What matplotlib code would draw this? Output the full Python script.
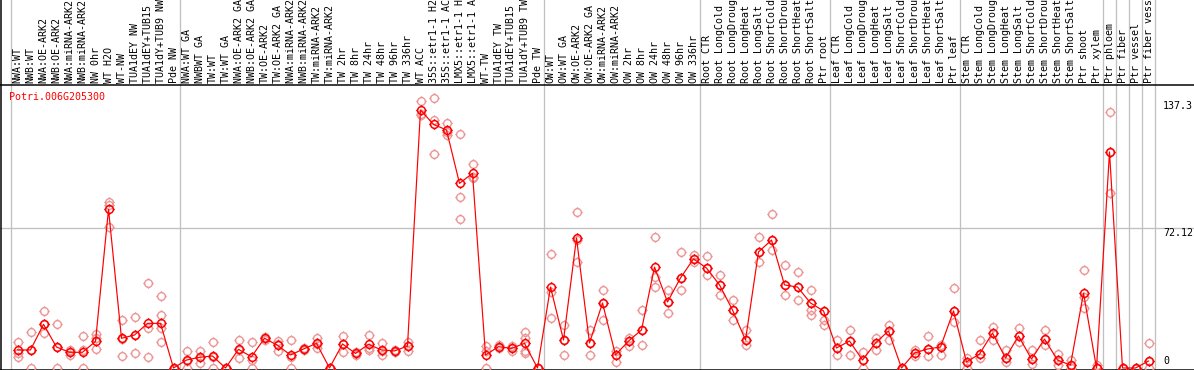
import numpy as np
import matplotlib
matplotlib.use("Agg")
import matplotlib.pyplot as plt
from matplotlib.path import Path

gene = "Potri.006G205300"

samples = [
    "NWA:WT", "NWB:WT", "NWA:OE-ARK2", "NWB:OE-ARK2", "NWA:miRNA-ARK2", "NWB:miRNA-ARK2",
    "NW 0hr", "WT H2O", "WT-NW", "TUA1dEY NW", "TUA1dEY+TUB15 NW", "TUA1dY+TUB9 NW", "Pde NW",
    "NWA:WT GA", "NWBWT GA", "TW:WT", "TW:WT GA", "NWA:OE-ARK2 GA", "NWB:OE-ARK2 GA",
    "TW:OE-ARK2", "TW:OE-ARK2 GA", "NWA:miRNA-ARK2 GA", "NWB:miRNA-ARK2 GA", "TW:miRNA-ARK2",
    "TW:miRNA-ARK2 GA", "TW 2hr", "TW 8hr", "TW 24hr", "TW 48hr", "TW 96hr", "TW 336hr",
    "WT ACC", "35S::etr1-1 H2O", "35S::etr1-1 ACC", "LMX5::etr1-1 H2O", "LMX5::etr1-1 ACC",
    "WT-TW", "TUA1dEY TW", "TUA1dEY+TUB15 TW", "TUA1dY+TUB9 TW", "Pde TW",
    "OW:WT", "OW:WT GA", "OW:OE-ARK2", "OW:OE-ARK2 GA", "OW:miRNA-ARK2", "OW:miRNA-ARK2 GA",
    "OW 2hr", "OW 8hr", "OW 24hr", "OW 48hr", "OW 96hr", "OW 336hr",
    "Root CTR", "Root LongCold", "Root LongDrought", "Root LongHeat", "Root LongSalt",
    "Root ShortCold", "Root ShortDrought", "Root ShortHeat", "Root ShortSalt", "Ptr root",
    "Leaf CTR", "Leaf LongCold", "Leaf LongDrought", "Leaf LongHeat", "Leaf LongSalt",
    "Leaf ShortCold", "Leaf ShortDrought", "Leaf ShortHeat", "Leaf ShortSalt", "Ptr leaf",
    "Stem CTR", "Stem LongCold", "Stem LongDrought", "Stem LongHeat", "Stem LongSalt",
    "Stem ShortCold", "Stem ShortDrought", "Stem ShortHeat", "Stem ShortSalt", "Ptr shoot",
    "Ptr xylem", "Ptr phloem", "Ptr fiber", "Ptr vessel", "Ptr fiber vessel",
]

means = [
    9.3, 9.3, 22.5, 10.8, 8.1, 8.1, 13.7, 81.7, 15.3, 17.0, 23.0, 23.0, 0.0,
    4.1, 5.5, 6.2, 0.0, 9.6, 5.8, 15.3, 11.7, 6.7, 9.8, 12.7, 0.0, 12.4, 7.5, 12.2,
    9.3, 8.8, 11.3, 132.9, 125.5, 122.6, 95.1, 100.3, 6.7, 11.0, 10.1, 12.7, 0.0,
    41.7, 14.4, 67.0, 12.9, 33.5, 6.7, 13.9, 19.6, 52.0, 34.0, 46.4, 56.2,
    51.5, 42.8, 29.9, 14.4, 59.8, 65.9, 42.8, 41.7, 33.5, 29.4,
    10.3, 13.9, 4.1, 12.9, 19.1, 0.0, 7.7, 9.8, 10.8, 29.4,
    3.1, 7.2, 18.0, 5.2, 16.5, 4.6, 14.9, 4.1, 1.5, 38.6, 0.0,
    111.3, 0.0, 0.0, 3.6,
]

replicates = [
    [13.4, 7.7, 5.7], [18.5, 9.3, 0.0], [29.4, 22.5, 17.9], [22.5, 10.8, 0.0],
    [9.3, 8.0, 6.8], [16.5, 9.3, 0.0], [17.3, 15.5, 9.6], [85.7, 84.0, 72.8],
    [24.7, 15.0, 6.2], [26.1, 17.0, 7.6], [43.6, 20.4, 5.5], [37.1, 27.3, 20.4, 13.6],
    [0.0, 0.0, 0.0],
    [8.8, 3.5, 0.0], [8.8, 5.5, 2.4], [13.2, 5.5, 0.0], [0.0, 0.0, 0.0],
    [14.4, 9.2, 5.3], [13.2, 4.3, 0.0], [16.0, 15.3, 14.6], [13.9, 12.3, 8.9],
    [14.3, 5.8, 0.0], [10.3, 9.8, 9.3], [15.6, 12.4, 10.1], [0.0, 0.0, 0.0],
    [16.5, 12.3, 8.4], [8.4, 7.5, 6.6], [17.0, 10.3, 9.3], [12.7, 8.5, 6.7],
    [9.5, 8.8, 8.1], [13.6, 11.4, 8.9], [137.6, 131.0, 130.3], [138.9, 127.8, 110.1],
    [126.1, 121.7, 120.0], [120.4, 87.9, 76.6], [104.9, 98.3, 97.7], [11.3, 9.0, 0.0],
    [11.6, 11.0, 10.4], [11.2, 10.1, 9.0], [18.7, 15.6, 8.5, 7.8], [0.0, 0.0, 0.0],
    [58.6, 39.0, 26.0], [22.2, 14.4, 6.7], [80.4, 66.0, 54.6], [19.6, 12.9, 6.5],
    [40.0, 33.5, 24.7], [9.0, 6.7, 3.1], [15.5, 13.9, 11.4], [29.9, 19.6, 11.9],
    [67.5, 46.7, 41.7], [40.2, 34.0, 28.3], [59.8, 46.4, 40.0], [58.0, 56.2, 54.5],
    [57.7, 51.5, 47.9], [47.9, 42.8, 37.7], [35.0, 29.9, 24.7], [19.6, 14.4, 11.9],
    [67.5, 59.8, 54.6], [79.3, 65.9, 60.8], [53.0, 42.8, 37.7], [49.4, 41.7, 35.0],
    [40.2, 33.5, 27.3, 29.9], [24.7, 22.2, 29.4],
    [14.4, 10.3, 6.7], [19.6, 13.9, 6.7], [8.2, 4.1, 0.0], [15.5, 12.9, 9.3],
    [22.2, 19.1, 14.4], [0.0, 0.0, 0.0], [9.3, 7.7, 6.2], [16.5, 9.8, 6.2],
    [11.9, 10.8, 6.7], [41.2, 29.4, 23.7],
    [5.2, 3.1, 0.0], [14.4, 7.2, 5.2], [21.1, 18.0, 14.4], [9.3, 5.2, 3.1],
    [20.6, 16.5, 13.4], [9.3, 4.6, 2.1], [19.6, 14.9, 11.9], [7.2, 4.1, 1.5],
    [4.1, 1.5, 0.0], [50.5, 36.7, 30.9], [1.5, 0.0, 0.0],
    [131.9, 111.3, 90.0], [0.0, 0.0, 0.0], [0.0, 0.0, 0.0], [12.7, 3.6, 0.0],
]

# group boundaries (after these sample counts)
group_edges = [0, 13, 41, 53, 63, 73, 84, 85, 86, 87, 88]
y_ticks = [137.3, 72.12, 0]

W, H = 1194, 370
slot = 13.0        # pixels per sample
x0_px = 11.0       # left edge of first sample slot
zero_px = 368.0    # pixel row of value 0
ppu = 140.0 / 72.12  # pixels per unit
header_px = 85.0

fig = plt.figure(figsize=(W / 100, H / 100), dpi=100)
ax = fig.add_axes([0, 0, 1, 1])
ax.set_axis_off()
ax.set_xlim(-0.5 - x0_px / slot, -0.5 + (W - x0_px) / slot)
ax.set_ylim(-(H - zero_px) / ppu, zero_px / ppu)

xt = ax.get_xaxis_transform()
px = 0.72  # 1 pixel in points

# vertical group separators, full height
for e in group_edges:
    ax.axvline(e - 0.5, color="#c0c0c0", lw=1.3 * px, zorder=1)

# horizontal reference line
ax.axhline(72.12, color="#c0c0c0", lw=1.3 * px, zorder=1)

# frame lines
ax.plot([0, 1], [1 - header_px / H] * 2, transform=ax.transAxes, color="black", lw=1.5 * px)
ax.plot([0, 1], [0.5 / H] * 2, transform=ax.transAxes, color="black", lw=1.5 * px)
ax.plot([1 / W] * 2, [0, 1], transform=ax.transAxes, color="black", lw=1.5 * px)

# marker: circle with four little ticks
circ = Path.unit_circle()
ticks = Path([(0, 1), (0, 1.35), (0, -1), (0, -1.35), (1, 0), (1.35, 0), (-1, 0), (-1.35, 0)],
             [Path.MOVETO, Path.LINETO] * 4)
mk = Path.make_compound_path(circ, ticks)

x = np.arange(len(samples))
for i, reps in enumerate(replicates):
    ax.plot([i] * len(reps), reps, linestyle="none", marker=mk, markersize=7.5,
            markerfacecolor="none", markeredgecolor="#ec9696", markeredgewidth=1.0, zorder=2)

ax.plot(x, means, color="#ff0000", lw=1.2 * px, zorder=3)
ax.plot(x, means, linestyle="none", marker=mk, markersize=7.5,
        markerfacecolor="none", markeredgecolor="#ff0000", markeredgewidth=1.1, zorder=4)

mono = "DejaVu Sans Mono"
for i, s in enumerate(samples):
    ax.text(i, 1 - (header_px - 2) / H, s, transform=xt, rotation=90, ha="center", va="bottom",
            fontsize=7.2, family=mono, color="black")

ax.text(-0.5 - x0_px / slot + 9 / slot, 1 - 97 / H, gene, transform=xt, ha="left", va="center",
        fontsize=7.2, family=mono, color="#ff0000")

xr = -0.5 + (1163 - x0_px) / slot
for v in y_ticks:
    if v == 0:
        ax.text(xr, v + 1.2, "0", ha="left", va="bottom", fontsize=7.2, family=mono)
    else:
        ax.text(xr, v, f"{v:g}", ha="left", va="top", fontsize=7.2, family=mono)

fig.savefig("out.png", dpi=100)
